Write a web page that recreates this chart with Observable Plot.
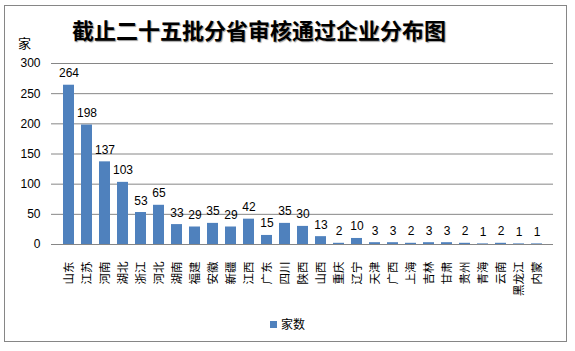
<!DOCTYPE html>
<html>
<head>
<meta charset="utf-8">
<script src="https://cdn.jsdelivr.net/npm/d3@7"></script>
<script src="https://cdn.jsdelivr.net/npm/@observablehq/plot@0.6"></script>
<style>
  html, body { margin: 0; padding: 0; background: #fff; }
  #wrap { position: relative; width: 575px; height: 351px; overflow: hidden; }
  #frame { position: absolute; left: 4px; top: 5px; width: 563px; height: 337px; border: 1px solid #868686; box-sizing: border-box; }
  #title { position: absolute; left: 0; top: 14px; width: 518px; text-align: center; font-family: "Noto Sans CJK SC", sans-serif; font-weight: bold; font-size: 22px; line-height: 30px; color: #000; text-shadow: 1px 1px 1px #999; }
  #unit { position: absolute; left: 18px; top: 35px; font-family: "Noto Sans CJK SC", sans-serif; font-size: 13px; line-height: 16px; }
  #legend { position: absolute; left: 270px; top: 316px; font-family: "Noto Sans CJK SC", sans-serif; font-size: 12px; line-height: 16px; display: flex; align-items: center; }
  #legend .sw { width: 7px; height: 7px; background: #4F81BD; margin-right: 4px; }
  #chart { position: absolute; left: 0; top: 0; }
</style>
</head>
<body>
<div id="wrap">
  <div id="chart"></div>
  <div id="frame"></div>
  <div id="title">截止二十五批分省审核通过企业分布图</div>
  <div id="unit">家</div>
  <div id="legend"><span class="sw"></span><span>家数</span></div>
</div>
<script>
const categories = ["山东","江苏","河南","湖北","浙江","河北","湖南","福建","安徽","新疆","江西","广东","四川","陕西","山西","重庆","辽宁","天津","广西","上海","吉林","甘肃","贵州","青海","云南","黑龙江","内蒙"];
const values = [264,198,137,103,53,65,33,29,35,29,42,15,35,30,13,2,10,3,3,2,3,3,2,1,2,1,1];
const yTicks = [0,50,100,150,200,250,300];

const data = categories.map((c, i) => ({name: c, value: values[i]}));

const chart = Plot.plot({
  width: 575,
  height: 351,
  marginTop: 63,
  marginBottom: 107,
  marginLeft: 51,
  marginRight: 22,
  style: {background: "transparent", fontFamily: "'Liberation Sans', sans-serif"},
  x: {domain: categories, paddingInner: 0.41, paddingOuter: 0.205, label: null},
  y: {domain: [0, 300], label: null},
  marks: [
    Plot.gridY(yTicks, {stroke: "#868686", strokeOpacity: 1}),
    Plot.barY(data, {x: "name", y: "value", fill: "#4F81BD"}),
    Plot.text(data, {x: "name", y: "value", text: d => String(d.value), dy: -8, lineAnchor: "bottom", fontSize: 12, fill: "#000"}),
    Plot.axisY(yTicks, {tickSize: 0, tickPadding: 11, fontSize: 12, fill: "#000", label: null}),
    Plot.axisX({tickSize: 0, tickPadding: 17, tickRotate: -90, fontSize: 11.5, fontFamily: "'Noto Sans CJK SC', sans-serif", fill: "#000", label: null}),
    Plot.ruleY([0], {stroke: "#868686"})
  ]
});
document.getElementById("chart").appendChild(chart);
</script>
</body>
</html>
